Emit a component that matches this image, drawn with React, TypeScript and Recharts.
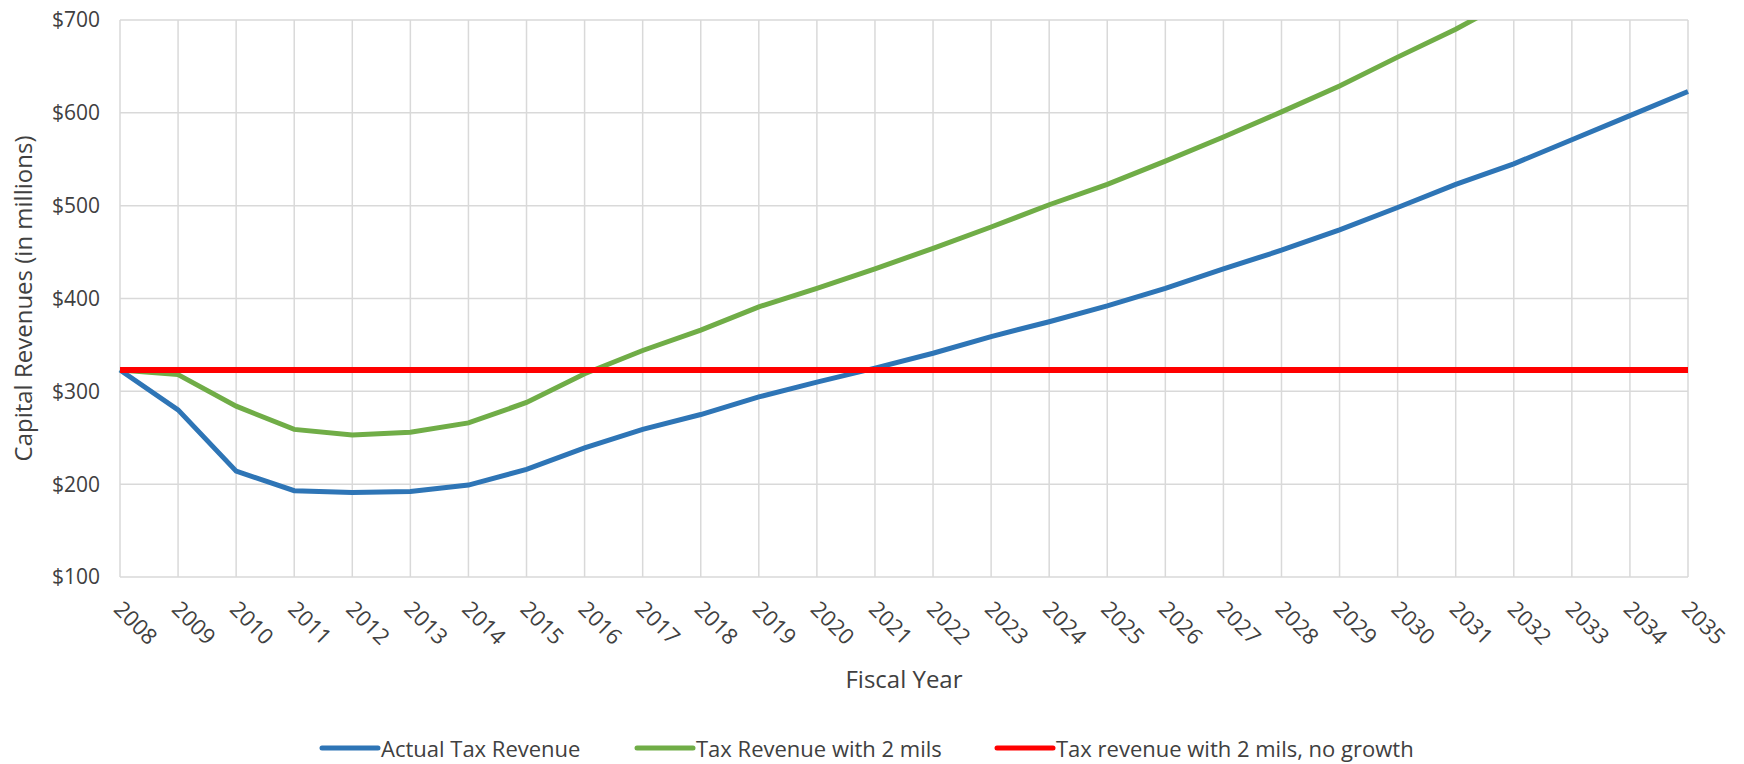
import React from 'react';
import { LineChart, Line, XAxis, YAxis, CartesianGrid, Legend, Label } from 'recharts';

const years = [2008, 2009, 2010, 2011, 2012, 2013, 2014, 2015, 2016, 2017, 2018, 2019, 2020, 2021, 2022, 2023, 2024, 2025, 2026, 2027, 2028, 2029, 2030, 2031, 2032, 2033, 2034, 2035];
const actual = [323, 280, 214, 193, 191, 192, 199, 216, 239, 259, 275, 294, 310, 325, 341, 359, 375, 392, 411, 432, 452, 474, 498, 523, 545, 571, 597, 623];
const withMils = [323, 318, 284, 259, 253, 256, 266, 288, 319, 344, 366, 391, 411, 432, 454, 477, 501, 523, 548, 574, 601, 629, 660, 690, 724, 758, 794, 830];
const noGrowth = [323, 323, 323, 323, 323, 323, 323, 323, 323, 323, 323, 323, 323, 323, 323, 323, 323, 323, 323, 323, 323, 323, 323, 323, 323, 323, 323, 323];
const yTicks = [100, 200, 300, 400, 500, 600, 700];

const seriesNames = ['Actual Tax Revenue', 'Tax Revenue with 2 mils', 'Tax revenue with 2 mils, no growth'];
const seriesColors = ['#2E75B6', '#70AD47', '#FF0000'];

const data = years.map((y, i) => ({
  year: String(y),
  actual: actual[i],
  withMils: withMils[i],
  noGrowth: noGrowth[i],
}));

const FONT = '"Open Sans", Lato, sans-serif';
const TEXT = '#404040';

const XTick = (props: any) => {
  const { x, y, payload } = props;
  return (
    <g transform={`translate(${x + 6},${y + 12})`}>
      <text
        x={0}
        y={0}
        transform="rotate(45)"
        textAnchor="start"
        dominantBaseline="hanging"
        fontFamily={FONT}
        fontSize={22}
        fill={TEXT}
      >
        {payload.value}
      </text>
    </g>
  );
};

const LegendContent = () => {
  const widths = [315, 360, 420];
  return (
    <div style={{ display: 'flex', paddingLeft: 319, height: 26, alignItems: 'center', fontFamily: FONT, fontSize: 22, color: TEXT, transform: 'translateY(-3px)' }}>
      {seriesNames.map((n, i) => (
        <div key={n} style={{ display: 'flex', alignItems: 'center', width: widths[i] }}>
          <svg width={62} height={8} style={{ display: 'block' }}>
            <line x1={3} y1={4} x2={59} y2={4} stroke={seriesColors[i]} strokeWidth={5} strokeLinecap="round" />
          </svg>
          <span style={{ whiteSpace: 'nowrap', lineHeight: '26px' }}>{n}</span>
        </div>
      ))}
    </div>
  );
};

const YLabel = (props: any) => {
  const { viewBox } = props;
  const cy = viewBox.y + viewBox.height / 2;
  const cx = 22;
  return (
    <text
      x={cx}
      y={cy}
      transform={`rotate(-90, ${cx}, ${cy})`}
      textAnchor="middle"
      dominantBaseline="central"
      fontFamily={FONT}
      fontSize={24}
      fill={TEXT}
    >
      Capital Revenues (in millions)
    </text>
  );
};

export default function App() {
  return (
    <div style={{ position: 'absolute', left: 0, top: 0, width: 1744, height: 764, background: '#fff' }}>
      <LineChart
        width={1744}
        height={764}
        data={data}
        margin={{ top: 20, right: 56, left: 0, bottom: 0 }}
      >
        <CartesianGrid stroke="#d9d9d9" strokeWidth={1.5} />
        <XAxis
          dataKey="year"
          interval={0}
          height={161}
          axisLine={false}
          tickLine={false}
          tick={<XTick />}
        >
          <Label
            value="Fiscal Year"
            position="insideBottom"
            offset={50}
            style={{ fontFamily: FONT, fontSize: 24, fill: TEXT }}
          />
        </XAxis>
        <YAxis
          width={120}
          domain={[100, 700]}
          ticks={yTicks}
          allowDataOverflow
          axisLine={false}
          tickLine={false}
          tickMargin={14}
          tickFormatter={(v: number) => `$${v}`}
          tick={{ fontFamily: FONT, fontSize: 21, fill: TEXT }}
          label={<YLabel />}
        />
        <Line dataKey="actual" name={seriesNames[0]} stroke={seriesColors[0]} strokeWidth={5} dot={false} isAnimationActive={false} />
        <Line dataKey="withMils" name={seriesNames[1]} stroke={seriesColors[1]} strokeWidth={5} dot={false} isAnimationActive={false} />
        <Line dataKey="noGrowth" name={seriesNames[2]} stroke={seriesColors[2]} strokeWidth={6} dot={false} isAnimationActive={false} />
        <Legend verticalAlign="bottom" content={<LegendContent />} />
      </LineChart>
    </div>
  );
}
